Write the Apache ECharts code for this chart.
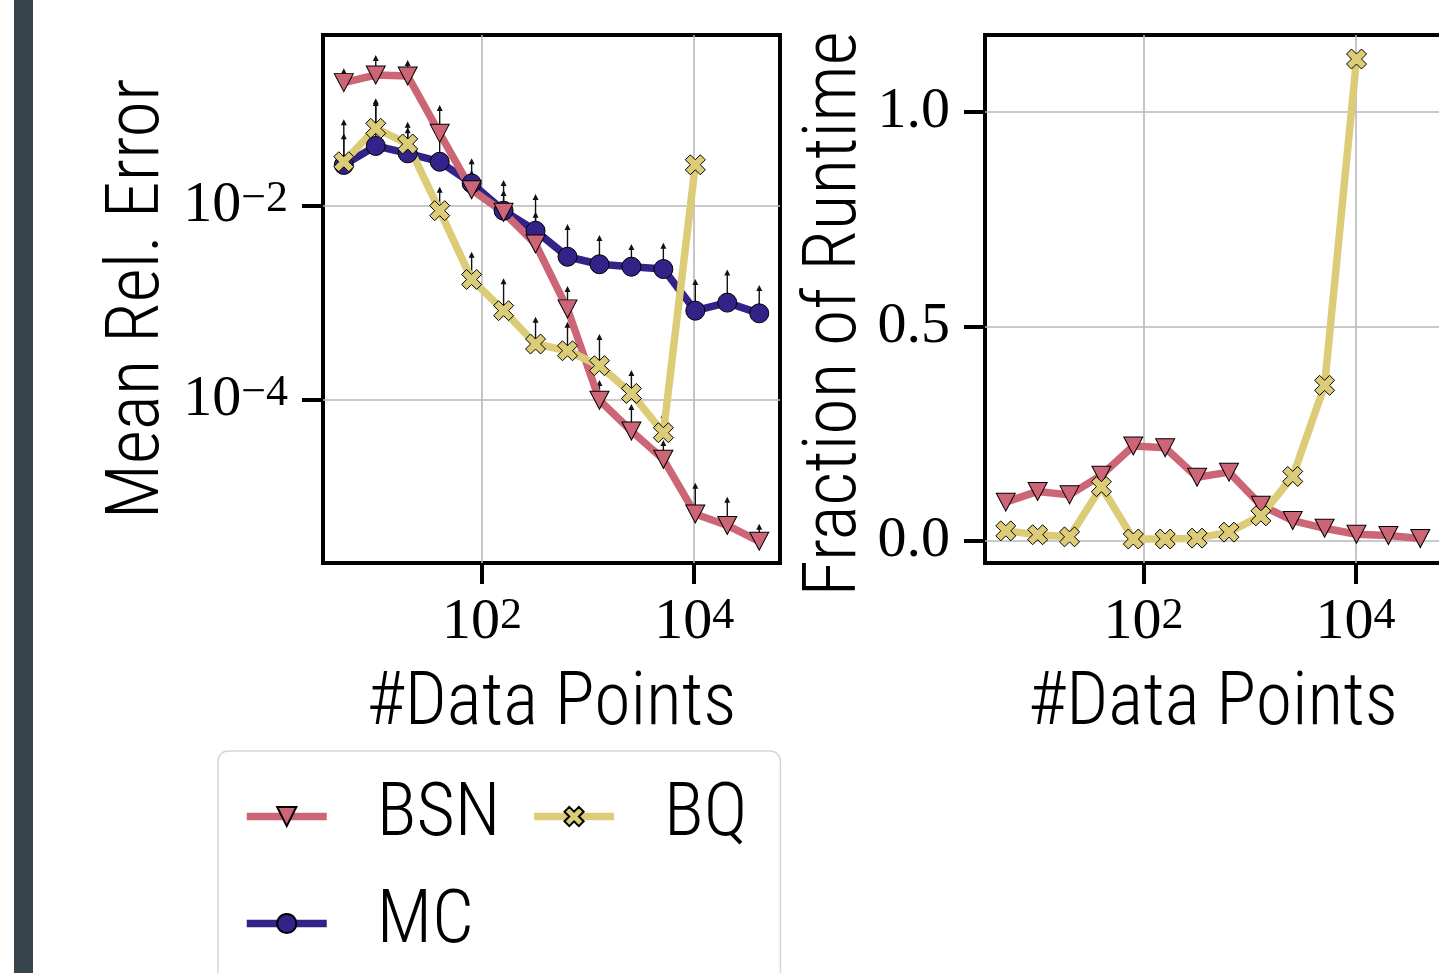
<!DOCTYPE html>
<html>
<head>
<meta charset="utf-8">
<title>Mean Rel. Error / Fraction of Runtime</title>
<script src="https://cdn.jsdelivr.net/npm/echarts@6/dist/echarts.min.js"></script>
<style>
  html, body { margin: 0; padding: 0; background: #fff; }
  #chart { width: 1439px; height: 973px; }
</style>
</head>
<body>
<div id="chart"></div>
<script>
// x values (number of data points)
const dataPoints = [5, 10, 20, 40, 80, 160, 320, 640, 1280, 2560, 5120, 10240, 20480, 40960];

// left panel: mean relative error, plus the top of each arrow
const bsnError = [0.187, 0.224, 0.219, 0.0561, 0.0147, 0.0086, 0.00406, 0.00087, 0.0000993, 0.0000479, 0.0000245, 0.0000067, 0.0000051, 0.0000035];
const bsnErrorTop = [0.263, 0.36, 0.32, 0.11, 0.031, 0.0185, 0.0087, 0.0015, 0.000161, 0.000091, 0.0000387, 0.000014, 0.0000101, 0.0000053];
const mcError = [0.0265, 0.0416, 0.0349, 0.0286, 0.0171, 0.00895, 0.00556, 0.0030, 0.00251, 0.00237, 0.00224, 0.000834, 0.00101, 0.000783];
const mcErrorTop = [0.0561, 0.124, 0.0647, 0.0608, 0.0235, 0.0146, 0.0133, 0.00652, 0.00502, 0.00406, 0.00419, 0.00177, 0.00222, 0.00153];
const bqError = [0.0286, 0.0632, 0.0436, 0.00895, 0.00175, 0.000834, 0.000378, 0.000322, 0.000226, 0.000117, 0.000046, 0.0266];
const bqErrorTop = [0.0783, 0.129, 0.0739, 0.0158, 0.00338, 0.0018, 0.000723, 0.000641, 0.000479, 0.000204, 0.000075, null];

// right panel: fraction of runtime
const bsnFraction = [0.090, 0.115, 0.107, 0.153, 0.221, 0.217, 0.148, 0.160, 0.083, 0.047, 0.029, 0.015, 0.012, 0.005];
const bqFraction = [0.023, 0.014, 0.009, 0.126, 0.004, 0.004, 0.006, 0.020, 0.058, 0.150, 0.3625, 1.124];

// tick positions
const xTicks = [100, 10000];
const errorTicks = [0.01, 0.0001];
const fractionTicks = [0, 0.5, 1];

const RED = '#CC6677';
const BLUE = '#332288';
const SAND = '#DDCC77';
const SANS = '"Roboto Condensed", "DejaVu Sans Condensed", sans-serif';
const SERIF = '"Liberation Serif", "DejaVu Serif", serif';
const X_MARK = 'path://M1 0L2 1L3 0L4 1L3 2L4 3L3 4L2 3L1 4L0 3L1 2L0 1Z';

const pairs = ys => ys.map((y, i) => [dataPoints[i], y]);
const arrows = (ys, tops) => ys
  .map((y, i) => [dataPoints[i], y, tops[i]])
  .filter(d => d[2] != null);

function powerLabel(v) {
  const e = Math.round(Math.log10(v));
  return '{b|10}{s|' + (e < 0 ? '\u2212' + (-e) : e) + '}';
}
const powerRich = {
  b: { fontFamily: SERIF, fontSize: 58, lineHeight: 58, color: '#000' },
  s: { fontFamily: SERIF, fontSize: 44, lineHeight: 28, verticalAlign: 'top', color: '#000' }
};

const nameStyle = { fontFamily: SANS, fontSize: 74, fontWeight: 300, color: '#000' };
const tickStyle = { show: true, length: 21, lineStyle: { color: '#000', width: 4 } };
const gridLine = { show: true, lineStyle: { color: '#b8b8b8', width: 1.6 } };

function renderArrow(params, api) {
  const p0 = api.coord([api.value(0), api.value(1)]);
  const p1 = api.coord([api.value(0), api.value(2)]);
  return {
    type: 'group',
    children: [
      { type: 'line', shape: { x1: p0[0], y1: p0[1], x2: p1[0], y2: p1[1] + 4 },
        style: { stroke: '#111', lineWidth: 1.4 } },
      { type: 'polygon', shape: { points: [[p1[0], p1[1]], [p1[0] - 3, p1[1] + 6], [p1[0] + 3, p1[1] + 6]] },
        style: { fill: '#111' } }
    ]
  };
}

function lineSeries(name, color, symbol, size, data, xi, extra) {
  return Object.assign({
    name: name,
    type: 'line',
    xAxisIndex: xi,
    yAxisIndex: xi,
    data: data,
    symbol: symbol,
    symbolSize: size,
    showSymbol: true,
    lineStyle: { color: color, width: 7.5 },
    itemStyle: { color: color, borderColor: '#000', borderWidth: 1 },
    emphasis: { disabled: true },
    z: 3
  }, extra || {});
}

const chart = echarts.init(document.getElementById('chart'));

chart.setOption({
  animation: false,
  backgroundColor: '#fff',
  graphic: [
    { type: 'rect', left: 14, top: 0, shape: { width: 19, height: 973 }, style: { fill: '#38444c' } }
  ],
  grid: [
    { left: 323, top: 35, width: 457, height: 528, show: true, borderColor: '#000', borderWidth: 4,
      backgroundColor: 'transparent', containLabel: false, outerBoundsMode: 'none' },
    { left: 985, top: 35, width: 456, height: 528, show: true, borderColor: '#000', borderWidth: 4,
      backgroundColor: 'transparent', containLabel: false, outerBoundsMode: 'none' }
  ],
  legend: {
    data: ['BSN', 'BQ', 'MC'],
    left: 218,
    top: 751,
    width: 620,
    orient: 'horizontal',
    padding: [27, 33, 40, 25],
    itemWidth: 80,
    itemHeight: 24,
    itemGap: 30,
    backgroundColor: '#fff',
    borderColor: '#d6d6d6',
    borderWidth: 1.5,
    borderRadius: 10,
    selectedMode: false,
    lineStyle: { width: 7.5 },
    textStyle: { fontFamily: SANS, fontSize: 74, fontWeight: 300, color: '#000', lineHeight: 77, padding: [0, 0, 0, 45] }
  },
  xAxis: [0, 1].map(i => ({
    type: 'log',
    gridIndex: i,
    min: 3.184,
    max: 64270,
    name: '#Data Points',
    nameLocation: 'middle',
    nameGap: 105,
    nameTextStyle: nameStyle,
    axisLine: { show: false, onZero: false },
    axisTick: Object.assign({ customValues: xTicks }, tickStyle),
    axisLabel: { margin: 31, customValues: xTicks, formatter: powerLabel, rich: powerRich },
    splitLine: gridLine,
    minorTick: { show: false },
    minorSplitLine: { show: false }
  })),
  yAxis: [
    {
      type: 'log',
      gridIndex: 0,
      min: 0.00000209,
      max: 0.579,
      name: 'Mean Rel. Error',
      nameLocation: 'middle',
      nameGap: 147,
      nameTextStyle: nameStyle,
      axisLine: { show: false, onZero: false },
      axisTick: Object.assign({ customValues: errorTicks }, tickStyle),
      axisLabel: { margin: 35, customValues: errorTicks, formatter: powerLabel, rich: powerRich },
      splitLine: gridLine,
      minorTick: { show: false },
      minorSplitLine: { show: false }
    },
    {
      type: 'value',
      gridIndex: 1,
      min: -0.052,
      max: 1.18,
      name: 'Fraction of Runtime',
      nameLocation: 'middle',
      nameGap: 112,
      nameTextStyle: Object.assign({ padding: [0, 30, 0, 0] }, nameStyle),
      axisLine: { show: false, onZero: false },
      axisTick: Object.assign({ customValues: fractionTicks }, tickStyle),
      axisLabel: {
        margin: 35, customValues: fractionTicks,
        formatter: v => v.toFixed(1),
        fontFamily: SERIF, fontSize: 58, color: '#000'
      },
      splitLine: gridLine
    }
  ],
  series: [
    {
      type: 'custom',
      xAxisIndex: 0,
      yAxisIndex: 0,
      renderItem: renderArrow,
      data: arrows(bsnError, bsnErrorTop)
        .concat(arrows(mcError, mcErrorTop))
        .concat(arrows(bqError, bqErrorTop)),
      z: 2,
      silent: true
    },
    lineSeries('MC', BLUE, 'circle', 19, pairs(mcError), 0),
    lineSeries('BSN', RED, 'triangle', [19, 18], pairs(bsnError), 0, { symbolRotate: 180 }),
    lineSeries('BQ', SAND, X_MARK, 20, pairs(bqError), 0),
    lineSeries('BSN', RED, 'triangle', [19, 18], pairs(bsnFraction), 1, { symbolRotate: 180 }),
    lineSeries('BQ', SAND, X_MARK, 20, pairs(bqFraction), 1)
  ]
});
</script>
</body>
</html>
